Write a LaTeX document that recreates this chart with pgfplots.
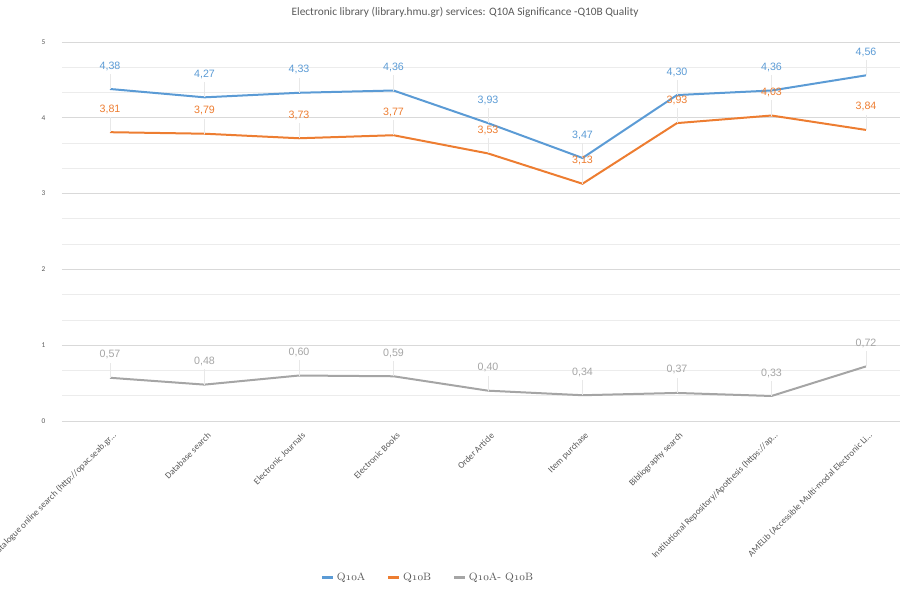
\documentclass[border=0pt]{standalone}
\usepackage{fontspec}
\usepackage{pgfplots}
\pgfplotsset{compat=1.18}
\newfontfamily\carlito{Carlito}
\newfontfamily\lsans{Liberation Sans}
% old-style figures for the legend
\newcommand\osn[1]{{\usefont{OML}{cmm}{m}{it}#1}}
\definecolor{qa}{RGB}{91,155,213}
\definecolor{qb}{RGB}{237,125,49}
\definecolor{qd}{RGB}{165,165,165}
\definecolor{gridmaj}{RGB}{217,217,217}
\definecolor{gridmin}{RGB}{236,236,236}
\definecolor{txt}{RGB}{89,89,89}
\begin{document}
\begin{tikzpicture}
\begin{axis}[
  at={(0pt,0pt)}, anchor=south west,
  scale only axis, width=628.5pt, height=284.25pt,
  xmin=-0.508, xmax=8.36, ymin=0, ymax=5,
  axis line style={draw=none},
  major tick length=0pt, minor tick length=0pt,
  ytick={0,1,2,3,4,5}, minor y tick num=2,
  ymajorgrids, yminorgrids,
  major grid style={gridmaj, line width=0.6pt},
  minor grid style={gridmin, line width=0.6pt},
  extra y ticks={0}, extra y tick labels={},
  extra y tick style={grid style={qd!90!black, line width=1.1pt}},
  yticklabel style={font=\carlito\fontsize{5.5}{6}\selectfont, text=txt, xshift=-9pt},
  xtick=data,
  xticklabels={
    Catalogue online search (http://opac.seab.gr\ldots,
    Database search,
    Electronic Journals,
    Electronic Books,
    Order Article,
    Item purchase,
    Bibliography search,
    Institutional Repository/Apothesis (https://ap\ldots,
    AMELib (Accessible Multi-modal Electronic Li\ldots},
  xticklabel style={font=\carlito\fontsize{6.8}{8}\selectfont, text=txt,
    rotate=45, anchor=east, xshift=-1pt, yshift=-9.5pt},
  title={Electronic library (library.hmu.gr) services: Q10A Significance -Q10B Quality},
  title style={at={(rel axis cs:0.481,1.058)}, anchor=center,
    font=\carlito\fontsize{8.5}{10}\selectfont, text=txt},
  /pgf/number format/assume math mode=true,
  nodes near coords={\pgfmathprintnumber[fixed,fixed zerofill,precision=2,use comma]{\pgfplotspointmeta}},
  error bars/y dir=plus, error bars/y fixed=0.2,
  error bars/error mark=none,
  error bars/error bar style={gray!18, line width=0.4pt},
  legend style={draw=none, at={(rel axis cs:0.437,-0.414)}, anchor=center,
    legend columns=3, font=\fontsize{8}{9}\selectfont, text=txt,
    /tikz/every even column/.append style={column sep=14pt}},
  legend image code/.code={\draw[#1, line width=2.2pt] (0pt,0pt) -- (8pt,0pt);},
]
\addplot[qa, line width=1.5pt, mark=none,
  every node near coord/.append style={font=\lsans\fontsize{8}{9}\selectfont, text=qa, anchor=center, yshift=17.25pt}]
  coordinates {(0,4.38) (1,4.27) (2,4.33) (3,4.36) (4,3.93) (5,3.47) (6,4.30) (7,4.36) (8,4.56)};
\addlegendentry{Q\osn{10}A}
\addplot[qb, line width=1.5pt, mark=none,
  every node near coord/.append style={font=\lsans\fontsize{8}{9}\selectfont, text=qb, anchor=center, yshift=17.25pt}]
  coordinates {(0,3.81) (1,3.79) (2,3.73) (3,3.77) (4,3.53) (5,3.13) (6,3.93) (7,4.03) (8,3.84)};
\addlegendentry{Q\osn{10}B}
\addplot[qd, line width=1.5pt, mark=none,
  every node near coord/.append style={font=\lsans\fontsize{8}{9}\selectfont, text=qd, anchor=center, yshift=17.25pt}]
  coordinates {(0,0.57) (1,0.48) (2,0.60) (3,0.59) (4,0.40) (5,0.34) (6,0.37) (7,0.33) (8,0.72)};
\addlegendentry{Q\osn{10}A- Q\osn{10}B}
\end{axis}
\pgfresetboundingbox
\path[use as bounding box] (-46.5pt,-127.5pt) rectangle (630pt,315.75pt);
\end{tikzpicture}
\end{document}
